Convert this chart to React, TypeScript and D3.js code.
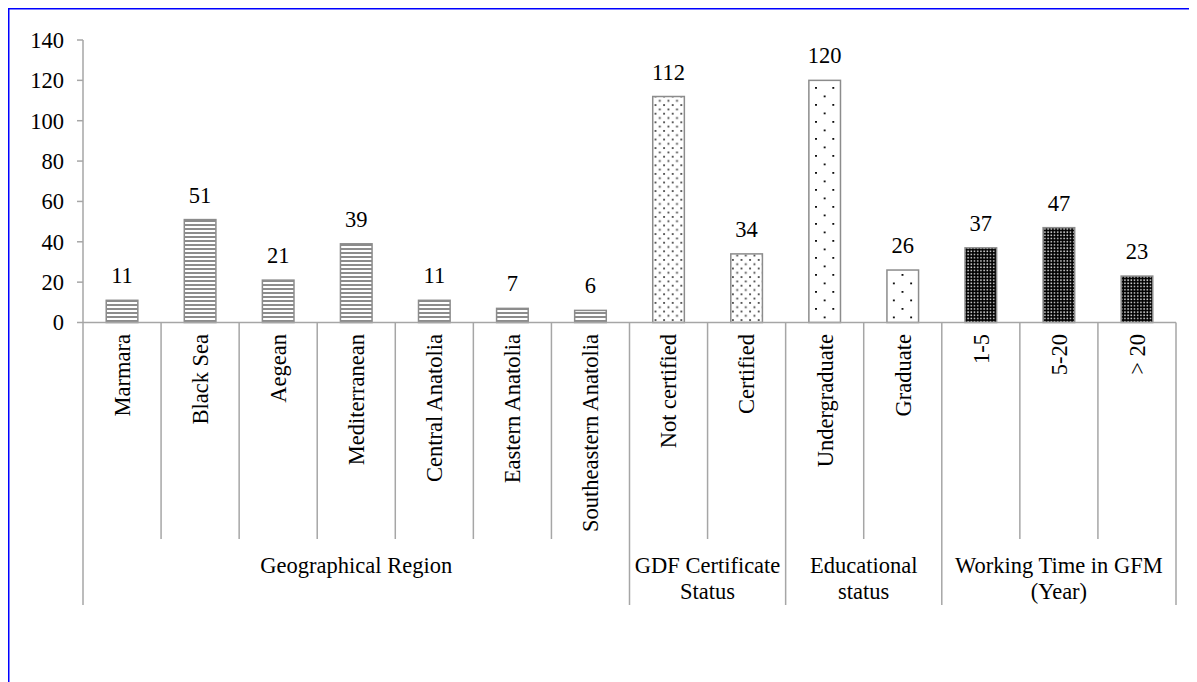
import React from "react";
import * as d3 from "d3";

// Categories, grouped along the x axis
const categories = [
  "Marmara",
  "Black Sea",
  "Aegean",
  "Mediterranean",
  "Central Anatolia",
  "Eastern Anatolia",
  "Southeastern Anatolia",
  "Not certified",
  "Certified",
  "Undergraduate",
  "Graduate",
  "1-5",
  "5-20",
  "> 20",
];
const values = [11, 51, 21, 39, 11, 7, 6, 112, 34, 120, 26, 37, 47, 23];
// Fill pattern used by each bar
const fills = [
  "stripes", "stripes", "stripes", "stripes", "stripes", "stripes", "stripes",
  "fineDots", "fineDots",
  "wideDots", "wideDots",
  "dense", "dense", "dense",
];
const groupNames = [
  ["Geographical Region"],
  ["GDF Certificate", "Status"],
  ["Educational", "status"],
  ["Working Time in GFM", "(Year)"],
];
const groupSizes = [7, 2, 2, 3];
const yTicks = [0, 20, 40, 60, 80, 100, 120, 140];

const FONT = "Liberation Serif";
const FS = 22.5;
const AXIS = "#a6a6a6";

export default function App() {
  const left = 83;
  const right = 1176;
  const x = d3
    .scaleBand<string>()
    .domain(categories)
    .range([left, right])
    .paddingInner(0)
    .paddingOuter(0);
  const y = d3.scaleLinear().domain([0, 140]).range([322.5, 40]);
  const bw = x.bandwidth();
  const barW = bw * 0.405;

  // group boundaries in category index
  const bounds: number[] = [0];
  groupSizes.forEach((s) => bounds.push(bounds[bounds.length - 1] + s));
  const xAt = (i: number) => left + i * bw;

  const txt = { fontFamily: FONT, fontSize: FS, fill: "#000" } as React.CSSProperties;

  return (
    <svg width={1189} height={674} style={{ display: "block" }}>
      <defs>
        <pattern id="stripes" width={4} height={4} patternUnits="userSpaceOnUse">
          <rect width={4} height={4} fill="#fff" />
          <rect y={0} width={4} height={2} fill="#8c8c8c" />
        </pattern>
        <pattern id="fineDots" width={8.6} height={8.6} patternUnits="userSpaceOnUse">
          <rect width={8.6} height={8.6} fill="#fff" />
          <rect x={1} y={1} width={1.8} height={1.8} fill="#444" />
          <rect x={5.3} y={5.3} width={1.8} height={1.8} fill="#444" />
        </pattern>
        <pattern id="wideDots" width={17.3} height={17} patternUnits="userSpaceOnUse">
          <rect width={17.3} height={17} fill="#fff" />
          <rect x={2} y={2} width={1.8} height={1.8} fill="#000" />
          <rect x={10.65} y={10.5} width={1.8} height={1.8} fill="#000" />
        </pattern>
        <pattern id="dense" width={3.2} height={3.2} patternUnits="userSpaceOnUse">
          <rect width={3.2} height={3.2} fill="#000" />
          <rect x={1} y={1} width={1.5} height={1.5} fill="#dcdcdc" />
        </pattern>
      </defs>
      <g transform="translate(-8,-8)">
        {/* frame */}
        <rect x={8.75} y={8.75} width={1400} height={1000} fill="none" stroke="#0000ff" strokeWidth={1.5} />

        {/* y axis */}
        <line x1={left} x2={left} y1={y(140)} y2={y(0)} stroke={AXIS} strokeWidth={1.5} />
        {yTicks.map((t) => (
          <g key={t}>
            <line x1={left - 6} x2={left} y1={y(t)} y2={y(t)} stroke={AXIS} strokeWidth={1.5} />
            <text x={64} y={y(t)} dy="0.35em" textAnchor="end" style={txt}>
              {t}
            </text>
          </g>
        ))}

        {/* bars */}
        {categories.map((c, i) => {
          const cx = (x(c) as number) + bw / 2;
          const v = values[i];
          return (
            <g key={c}>
              <rect
                x={cx - barW / 2}
                y={y(v)}
                width={barW}
                height={y(0) - y(v)}
                fill={`url(#${fills[i]})`}
                stroke="#8c8c8c"
                strokeWidth={1.5}
              />
              <text x={cx} y={y(v) - 17} textAnchor="middle" style={txt}>
                {v}
              </text>
            </g>
          );
        })}

        {/* category axis */}
        <line x1={left} x2={right} y1={y(0)} y2={y(0)} stroke={AXIS} strokeWidth={1.5} />
        {d3.range(categories.length + 1).map((i) => {
          const isGroup = bounds.includes(i);
          return (
            <line
              key={i}
              x1={xAt(i)}
              x2={xAt(i)}
              y1={y(0)}
              y2={isGroup ? 605 : 539}
              stroke={AXIS}
              strokeWidth={1.5}
            />
          );
        })}
        {categories.map((c) => {
          const cx = (x(c) as number) + bw / 2;
          return (
            <text
              key={c}
              transform={`translate(${cx},334) rotate(-90)`}
              dy="0.35em"
              textAnchor="end"
              style={txt}
            >
              {c}
            </text>
          );
        })}

        {/* group labels */}
        {groupNames.map((lines, g) => {
          const cx = (xAt(bounds[g]) + xAt(bounds[g + 1])) / 2;
          return (
            <text key={g} x={cx} y={573} textAnchor="middle" style={txt}>
              {lines.map((l, k) => (
                <tspan key={k} x={cx} dy={k === 0 ? 0 : 25.5}>
                  {l}
                </tspan>
              ))}
            </text>
          );
        })}
      </g>
    </svg>
  );
}
